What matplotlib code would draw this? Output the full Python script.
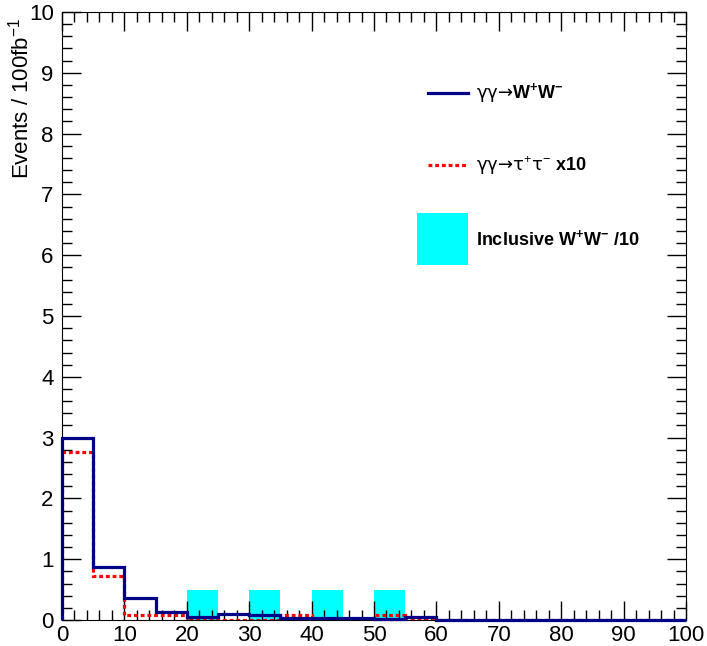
import numpy as np
import matplotlib.pyplot as plt
from matplotlib.ticker import MultipleLocator

plt.rcParams['font.family'] = ['Liberation Sans', 'DejaVu Sans']
plt.rcParams['mathtext.fontset'] = 'custom'
plt.rcParams['mathtext.rm'] = 'Liberation Sans'
plt.rcParams['mathtext.bf'] = 'Liberation Sans:bold'

# bin edges (width 5) and contents
edges = np.arange(0, 105, 5)
ww = [3.0, 0.87, 0.36, 0.13, 0.05, 0.10, 0.08, 0.03, 0.03, 0.03,
      0.02, 0.05, 0, 0, 0, 0, 0, 0, 0, 0]
tautau = [2.76, 0.73, 0.08, 0.08, 0.0, 0.0, 0.0, 0.08, 0.0, 0.0,
          0.08, 0.0, 0, 0, 0, 0, 0, 0, 0, 0]
incl_x = [20, 30, 40, 50]
incl_h = [0.5, 0.5, 0.5, 0.5]

fig = plt.figure(figsize=(7.07, 6.46), dpi=100)
ax = fig.add_axes([0.0877, 0.0402, 0.8826, 0.9412])

ax.bar(incl_x, incl_h, width=5, align='edge', color='#00ffff', zorder=1)
ax.stairs(ww, edges, color='#000088', lw=2.3, zorder=3, clip_on=False)
ax.stairs(tautau, edges, color='#ff0000', lw=2.3, ls=(0, (1.2, 0.9)), zorder=2)

# legend drawn by hand, ROOT style
ax.plot([58.7, 65.1], [8.67, 8.67], color='#000088', lw=2.3)
ax.plot([58.7, 65.1], [7.48, 7.48], color='#ff0000', lw=2.3, ls=(0, (1.2, 0.9)))
ax.fill_between([56.9, 65.1], 5.84, 6.69, color='#00ffff', lw=0)
ax.text(66.4, 8.67, 'γγ→' + r'$\mathbf{W^{+}W^{-}}$', fontsize=13, va='center',
        family='DejaVu Sans')
ax.text(66.4, 7.48, 'γγ→τ' + r'$^{+}$' + 'τ' + r'$^{-}$ $\mathbf{x10}$',
        fontsize=13, va='center', family='DejaVu Sans')
ax.text(66.4, 6.26, r'Inclusive W$^{\mathbf{+}}$W$^{\mathbf{-}}$ /10', fontsize=13,
        va='center', fontweight='bold')

ax.set_xlim(0, 100)
ax.set_ylim(0, 10)
ax.xaxis.set_major_locator(MultipleLocator(10))
ax.xaxis.set_minor_locator(MultipleLocator(2))
ax.yaxis.set_major_locator(MultipleLocator(1))
ax.yaxis.set_minor_locator(MultipleLocator(0.2))
ax.tick_params(which='both', direction='in', top=True, right=True, labelsize=16, width=1)
ax.tick_params(which='major', length=14)
ax.tick_params(which='minor', length=7)
ax.tick_params(axis='y', pad=6)
ax.set_ylabel(r'Events / 100fb$^{-1}$', fontsize=16, loc='top')
ax.yaxis.set_label_coords(-0.046, 0.99)

fig.savefig('out.png', dpi=100)
